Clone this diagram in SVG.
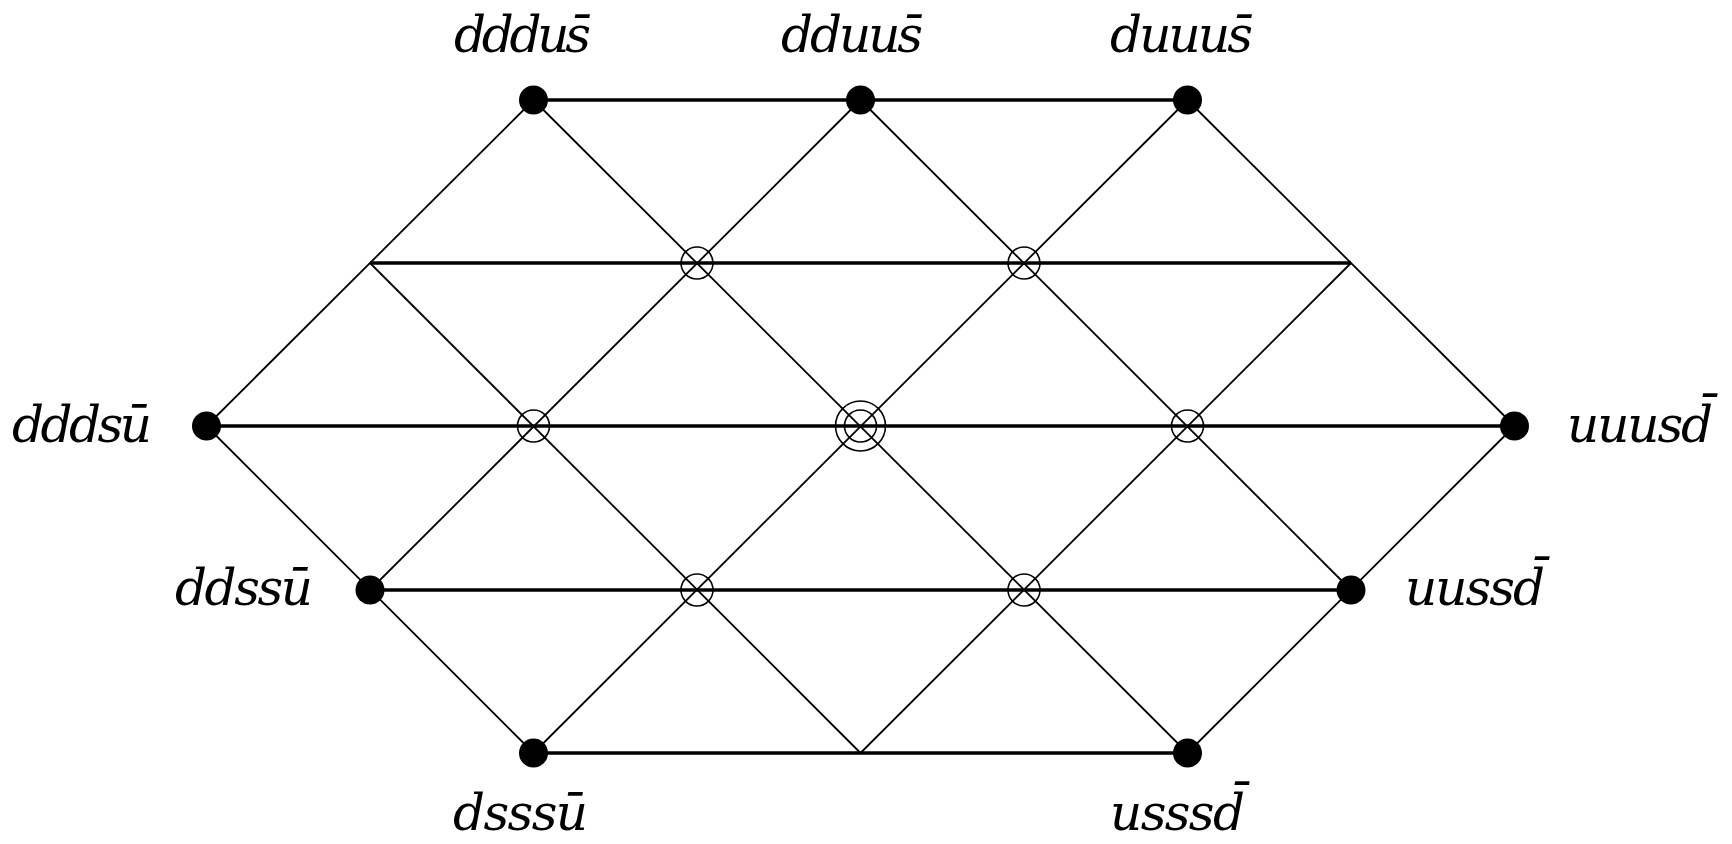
<svg xmlns="http://www.w3.org/2000/svg" width="1732" height="844" viewBox="0 0 1732 844">
<style>
.h{stroke:#000;stroke-width:3.6;fill:none}
.d{stroke:#000;stroke-width:1.8;fill:none}
.dot{fill:#000}
.ring{fill:none;stroke:#000;stroke-width:1.6}
text{font-family:"DejaVu Serif","Liberation Serif",serif;font-style:italic;font-size:50px;fill:#000}
</style>
<rect width="1732" height="844" fill="#fff"/>
<g id="connectors">
<line class="h" x1="533.5" y1="100" x2="1187.5" y2="100"/>
<line class="h" x1="370" y1="263" x2="1351" y2="263"/>
<line class="h" x1="206.5" y1="426" x2="1514.5" y2="426"/>
<line class="h" x1="370" y1="590" x2="1351" y2="590"/>
<line class="h" x1="533.5" y1="753" x2="1187.5" y2="753"/>
<line class="d" x1="206.5" y1="426" x2="533.5" y2="753"/>
<line class="d" x1="370" y1="263" x2="860.5" y2="753"/>
<line class="d" x1="533.5" y1="100" x2="1187.5" y2="753"/>
<line class="d" x1="860.5" y1="100" x2="1351" y2="590"/>
<line class="d" x1="1187.5" y1="100" x2="1514.5" y2="426"/>
<line class="d" x1="533.5" y1="100" x2="206.5" y2="426"/>
<line class="d" x1="860.5" y1="100" x2="370" y2="590"/>
<line class="d" x1="1187.5" y1="100" x2="533.5" y2="753"/>
<line class="d" x1="1351" y1="263" x2="860.5" y2="753"/>
<line class="d" x1="1514.5" y1="426" x2="1187.5" y2="753"/>
</g>
<g id="n-dddus"><circle class="dot" cx="533.5" cy="100" r="14.5"/><text x="454" y="52" textLength="137">dddus̄</text></g>
<g id="n-dduus"><circle class="dot" cx="860.5" cy="100" r="14.5"/><text x="781" y="52" textLength="142">dduus̄</text></g>
<g id="n-duuus"><circle class="dot" cx="1187.5" cy="100" r="14.5"/><text x="1110" y="52" textLength="143">duuus̄</text></g>
<g id="n-dddsu"><circle class="dot" cx="206.5" cy="426" r="14.5"/><text x="12" y="442" textLength="140">dddsū</text></g>
<g id="n-uuusd"><circle class="dot" cx="1514.5" cy="426" r="14.5"/><text x="1567" y="442" textLength="146">uuusd̄</text></g>
<g id="n-ddssu"><circle class="dot" cx="370" cy="590" r="14.5"/><text x="175" y="605" textLength="138">ddssū</text></g>
<g id="n-uussd"><circle class="dot" cx="1351" cy="590" r="14.5"/><text x="1405" y="605" textLength="140">uussd̄</text></g>
<g id="n-dsssu"><circle class="dot" cx="533.5" cy="753" r="14.5"/><text x="453" y="830" textLength="135">dsssū</text></g>
<g id="n-usssd"><circle class="dot" cx="1187.5" cy="753" r="14.5"/><text x="1110" y="830" textLength="135">usssd̄</text></g>
<g id="c1"><circle class="ring" cx="697" cy="263" r="16"/></g>
<g id="c2"><circle class="ring" cx="1024" cy="263" r="16"/></g>
<g id="c3"><circle class="ring" cx="533.5" cy="426" r="16"/></g>
<g id="c4"><circle class="ring" cx="1187.5" cy="426" r="16"/></g>
<g id="c5"><circle class="ring" cx="697" cy="590" r="16"/></g>
<g id="c6"><circle class="ring" cx="1024" cy="590" r="16"/></g>
<g id="c-center"><circle class="ring" cx="860.5" cy="426" r="16"/><circle class="ring" cx="860.5" cy="426" r="25"/></g>
</svg>
